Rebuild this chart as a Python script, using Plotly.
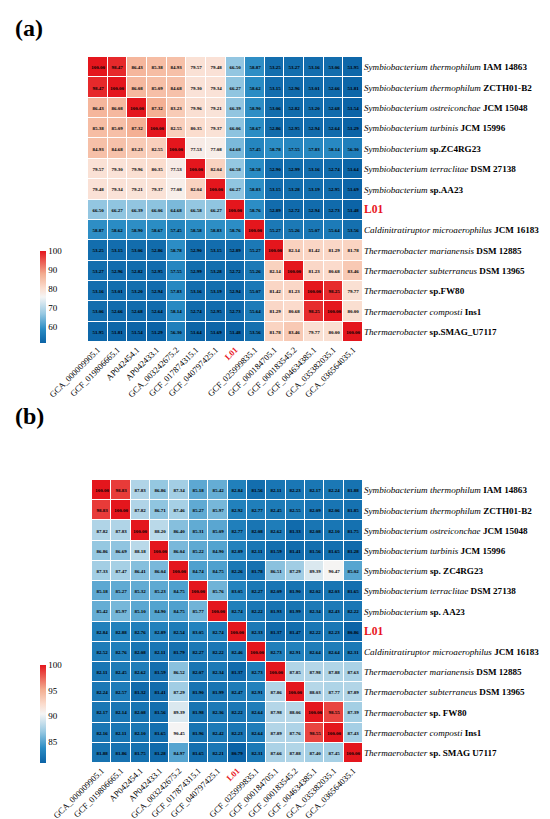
import plotly.graph_objects as go

col_ids = ["GCA_000009905.1", "GCF_019806665.1", "AP042454.1", "AP042433.1",
           "GCA_003242675.2", "GCF_017874315.1", "GCF_040797425.1", "L01",
           "GCF_025999835.1", "GCF_000184705.1", "GCF_000183545.2",
           "GCF_004634385.1", "GCA_035382035.1", "GCA_036564035.1"]

row_ids = ["IAM 14863", "ZCTH01-B2", "JCM 15048", "JCM 15996", "ZC4RG23",
           "DSM 27138", "AA23", "L01", "JCM 16183", "DSM 12885", "DSM 13965",
           "FW80", "Ins1", "SMAG_U7117"]

row_text_a = [
    "<i>Symbiobacterium thermophilum</i> <b>IAM 14863</b>",
    "<i>Symbiobacterium thermophilum</i> <b>ZCTH01-B2</b>",
    "<i>Symbiobacterium ostreiconchae</i> <b>JCM 15048</b>",
    "<i>Symbiobacterium turbinis</i> <b>JCM 15996</b>",
    "<i>Symbiobacterium</i> <b>sp.ZC4RG23</b>",
    "<i>Symbiobacterium terraclitae</i> <b>DSM 27138</b>",
    "<i>Symbiobacterium</i> <b>sp.AA23</b>",
    "<span style='color:#e8141c;font-size:11.5px'><b>L01</b></span>",
    "<i>Caldinitratiruptor microaerophilus</i> <b>JCM 16183</b>",
    "<i>Thermaerobacter marianensis</i> <b>DSM 12885</b>",
    "<i>Thermaerobacter subterraneus</i> <b>DSM 13965</b>",
    "<i>Thermaerobacter</i> <b>sp.FW80</b>",
    "<i>Thermaerobacter composti</i> <b>Ins1</b>",
    "<i>Thermaerobacter</i> <b>sp.SMAG_U7117</b>",
]
row_text_b = [
    "<i>Symbiobacterium thermophilum</i> <b>IAM 14863</b>",
    "<i>Symbiobacterium thermophilum</i> <b>ZCTH01-B2</b>",
    "<i>Symbiobacterium ostreiconchae</i> <b>JCM 15048</b>",
    "<i>Symbiobacterium turbinis</i> <b>JCM 15996</b>",
    "<i>Symbiobacterium</i> <b>sp. ZC4RG23</b>",
    "<i>Symbiobacterium terraclitae</i> <b>DSM 27138</b>",
    "<i>Symbiobacterium</i> <b>sp. AA23</b>",
    "<span style='color:#e8141c;font-size:11.5px'><b>L01</b></span>",
    "<i>Caldinitratiruptor microaerophilus</i> <b>JCM 16183</b>",
    "<i>Thermaerobacter marianensis</i> <b>DSM 12885</b>",
    "<i>Thermaerobacter subterraneus</i> <b>DSM 13965</b>",
    "<i>Thermaerobacter</i> <b>sp. FW80</b>",
    "<i>Thermaerobacter composti</i> <b>Ins1</b>",
    "<i>Thermaerobacter</i> <b>sp. SMAG U7117</b>",
]
col_text = [c if c != "L01" else "<span style='color:#e8141c'><b>L01</b></span>" for c in col_ids]

ani_a = [
    [100.00, 98.47, 86.43, 85.38, 84.93, 79.57, 79.48, 66.50, 58.87, 53.25, 53.27, 53.16, 53.06, 51.95],
    [98.47, 100.00, 86.08, 85.09, 84.68, 79.30, 79.34, 66.27, 58.62, 53.15, 52.96, 53.01, 52.66, 51.81],
    [86.43, 86.08, 100.00, 87.32, 83.23, 79.96, 79.21, 66.39, 58.90, 53.06, 52.82, 53.20, 52.68, 51.54],
    [85.38, 85.09, 87.32, 100.00, 82.55, 80.35, 79.37, 66.06, 58.67, 52.86, 52.95, 52.94, 52.64, 51.29],
    [84.93, 84.68, 83.23, 82.55, 100.00, 77.53, 77.08, 64.68, 57.45, 58.78, 57.55, 57.83, 58.14, 56.30],
    [79.57, 79.30, 79.96, 80.35, 77.53, 100.00, 82.04, 66.58, 58.58, 52.90, 52.99, 53.16, 52.74, 51.64],
    [79.48, 79.34, 79.21, 79.37, 77.08, 82.04, 100.00, 66.27, 58.83, 53.15, 53.28, 53.19, 52.95, 51.69],
    [66.50, 66.27, 66.39, 66.06, 64.68, 66.58, 66.27, 100.00, 58.76, 52.89, 52.72, 52.94, 52.73, 51.48],
    [58.87, 58.62, 58.90, 58.67, 57.45, 58.58, 58.83, 58.76, 100.00, 55.27, 55.26, 55.07, 55.64, 53.56],
    [53.25, 53.15, 53.06, 52.86, 58.78, 52.90, 53.15, 52.89, 55.27, 100.00, 82.14, 81.42, 81.29, 81.78],
    [53.27, 52.96, 52.82, 52.95, 57.55, 52.99, 53.28, 52.72, 55.26, 82.14, 100.00, 81.23, 80.68, 83.46],
    [53.16, 53.01, 53.20, 52.94, 57.83, 53.16, 53.19, 52.94, 55.07, 81.42, 81.23, 100.00, 98.25, 79.77],
    [53.06, 52.66, 52.68, 52.64, 58.14, 52.74, 52.95, 52.73, 55.64, 81.29, 80.68, 98.25, 100.00, 80.00],
    [51.95, 51.81, 51.54, 51.29, 56.30, 51.64, 51.69, 51.48, 53.56, 81.78, 83.46, 79.77, 80.00, 100.00],
]

ani_b = [
    [100.00, 98.83, 87.83, 86.86, 87.34, 85.18, 85.42, 82.84, 81.56, 82.11, 82.23, 82.17, 82.24, 81.88],
    [98.83, 100.00, 87.82, 86.71, 87.46, 85.27, 85.97, 82.92, 82.77, 82.45, 82.55, 82.09, 82.06, 81.85],
    [87.82, 87.83, 100.00, 88.20, 86.40, 85.31, 85.09, 82.77, 82.08, 82.62, 81.33, 82.08, 82.10, 81.75],
    [86.86, 86.69, 88.18, 100.00, 86.04, 85.22, 84.90, 82.89, 82.11, 81.59, 81.41, 81.56, 81.65, 81.28],
    [87.33, 87.47, 86.41, 86.04, 100.00, 84.74, 84.75, 82.26, 81.78, 86.51, 87.29, 89.39, 90.47, 85.02],
    [85.18, 85.27, 85.32, 85.23, 84.75, 100.00, 85.76, 83.05, 82.27, 82.09, 81.90, 82.02, 82.03, 81.65],
    [85.42, 85.97, 85.10, 84.90, 84.75, 85.77, 100.00, 82.74, 82.22, 81.93, 81.99, 82.34, 82.43, 82.22],
    [82.84, 82.88, 82.76, 82.89, 82.54, 83.05, 82.74, 100.00, 82.33, 81.37, 81.47, 82.22, 82.23, 80.86],
    [82.52, 82.76, 82.08, 82.11, 81.79, 82.27, 82.22, 82.46, 100.00, 82.73, 82.91, 82.64, 82.64, 82.31],
    [82.11, 82.45, 82.62, 81.59, 86.52, 82.07, 82.34, 81.37, 82.73, 100.00, 87.85, 87.98, 87.88, 87.63],
    [82.24, 82.57, 81.32, 81.41, 87.29, 81.90, 81.99, 82.47, 82.91, 87.86, 100.00, 88.03, 87.77, 87.89],
    [82.17, 82.14, 82.08, 81.56, 89.39, 81.98, 82.36, 82.22, 82.64, 87.98, 88.06, 100.00, 98.55, 87.39],
    [82.16, 82.11, 82.10, 81.65, 90.45, 81.96, 82.42, 82.23, 82.64, 87.89, 87.76, 98.55, 100.00, 87.43],
    [81.88, 81.86, 81.75, 81.28, 84.97, 81.65, 82.21, 80.79, 82.31, 87.66, 87.88, 87.40, 87.45, 100.00],
]

cbar_ticks_a = [60, 70, 80, 90, 100]
cbar_ticks_b = [85, 90, 95, 100]

colorscale = [
    [0.0, "#0b63a6"],
    [0.15, "#2a8cc4"],
    [0.32, "#98c9e2"],
    [0.5, "#f5f5f5"],
    [0.6, "#fbdccd"],
    [0.75, "#f3ad90"],
    [1.0, "#e4161d"],
]

W, H = 550, 819
SERIF = "Liberation Serif, Times New Roman, serif"

def px_x(p):
    return p / W

def px_y(p):
    return 1 - p / H

def zrange(m):
    flat = [v for r in m for v in r]
    return min(flat), max(flat)

fig = go.Figure()

za_min, za_max = zrange(ani_a)
zb_min, zb_max = zrange(ani_b)

cell_font = dict(size=5, family=SERIF, color="black")

fig.add_trace(go.Heatmap(
    z=ani_a, x=col_ids, y=row_ids, colorscale=colorscale,
    zmin=za_min, zmax=za_max, xgap=1, ygap=1,
    texttemplate="<b>%{z:.2f}</b>", textfont=cell_font,
    xaxis="x", yaxis="y",
    colorbar=dict(x=px_x(32), xanchor="left", xpad=0, ypad=0,
                  y=px_y(289), yanchor="middle",
                  len=92, lenmode="pixels", thickness=6, outlinewidth=0,
                  tickvals=cbar_ticks_a, ticks="",
                  tickfont=dict(family=SERIF, size=9, color="black")),
))

fig.add_trace(go.Heatmap(
    z=ani_b, x=col_ids, y=row_ids, colorscale=colorscale,
    zmin=zb_min, zmax=zb_max, xgap=1, ygap=1,
    texttemplate="<b>%{z:.2f}</b>", textfont=cell_font,
    xaxis="x2", yaxis="y2",
    colorbar=dict(x=px_x(32), xanchor="left", xpad=0, ypad=0,
                  y=px_y(706), yanchor="middle",
                  len=98, lenmode="pixels", thickness=6, outlinewidth=0,
                  tickvals=cbar_ticks_b, ticks="",
                  tickfont=dict(family=SERIF, size=9, color="black")),
))

xaxis_common = dict(tickangle=-45, showgrid=False, zeroline=False, showline=False,
                    automargin=False,
                    tickfont=dict(family=SERIF, size=8.6, color="black"),
                    tickvals=col_ids, ticktext=col_text, side="bottom",
                    ticklabelstandoff=0)
yaxis_common = dict(autorange="reversed", showgrid=False, zeroline=False, showline=False,
                    automargin=False,
                    tickfont=dict(family=SERIF, size=9.1, color="black"),
                    tickvals=row_ids, side="right", ticklabelstandoff=0)

fig.update_layout(
    width=W, height=H, margin=dict(l=0, r=0, t=0, b=0, autoexpand=False),
    paper_bgcolor="white", plot_bgcolor="white",
    font=dict(family=SERIF, color="black"),
    xaxis=dict(domain=[px_x(80), px_x(355)], anchor="y", **xaxis_common),
    yaxis=dict(domain=[px_y(334), px_y(49)], anchor="x", ticktext=row_text_a, **yaxis_common),
    xaxis2=dict(domain=[px_x(84), px_x(355)], anchor="y2", **xaxis_common),
    yaxis2=dict(domain=[px_y(755), px_y(472)], anchor="x2", ticktext=row_text_b, **yaxis_common),
    annotations=[
        dict(text="<b>(a)</b>", x=px_x(5), y=px_y(20), xref="paper", yref="paper",
             xanchor="left", yanchor="middle", showarrow=False,
             font=dict(family=SERIF, size=24, color="black")),
        dict(text="<b>(b)</b>", x=px_x(5), y=px_y(408), xref="paper", yref="paper",
             xanchor="left", yanchor="middle", showarrow=False,
             font=dict(family=SERIF, size=24, color="black")),
    ],
)

fig.write_html("out.html")
